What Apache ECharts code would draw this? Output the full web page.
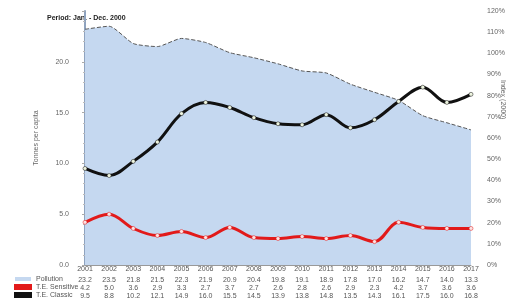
<!DOCTYPE html>
<html>
<head>
<meta charset="utf-8">
<script src="https://cdn.jsdelivr.net/npm/echarts@6/dist/echarts.min.js"></script>
<style>
  html, body { margin: 0; padding: 0; background: #fff; }
  #main { width: 527px; height: 302px; }
</style>
</head>
<body>
<div id="main"></div>
<script>
// years on the x axis / table header
var years = ['2001', '2002', '2003', '2004', '2005', '2006', '2007', '2008', '2009',
  '2010', '2011', '2012', '2013', '2014', '2015', '2016', '2017'];
// light blue area
var pollution = [23.2, 23.5, 21.8, 21.5, 22.3, 21.9, 20.9, 20.4, 19.8,
  19.1, 18.9, 17.8, 17.0, 16.2, 14.7, 14.0, 13.3];
// red line
var sensitive = [4.2, 5.0, 3.6, 2.9, 3.3, 2.7, 3.7, 2.7, 2.6,
  2.8, 2.6, 2.9, 2.3, 4.2, 3.7, 3.6, 3.6];
// black line
var classic = [9.5, 8.8, 10.2, 12.1, 14.9, 16.0, 15.5, 14.5, 13.9,
  13.8, 14.8, 13.5, 14.3, 16.1, 17.5, 16.0, 16.8];

var seriesNames = ['Pollution', 'T.E. Sensitive', 'T.E. Classic'];
var seriesColors = ['#c5d8f0', '#e21a1a', '#111'];

var chart = echarts.init(document.getElementById('main'));

var fmt = function (v) { return v.toFixed(1); };
var tableAxis = function (vals, off) {
  return {
    type: 'category',
    position: 'bottom',
    offset: off,
    boundaryGap: false,
    data: vals.map(fmt),
    axisLine: { show: false },
    axisTick: { show: false },
    axisLabel: { fontSize: 7, color: '#555', margin: 0, interval: 0 }
  };
};

var option = {
  animation: false,
  textStyle: { fontFamily: 'Liberation Sans, Arial, sans-serif' },
  grid: { left: 85, right: 56, top: 11, bottom: 37 },
  legend: {
    orient: 'vertical',
    left: 14,
    top: 275,
    height: 40,
    padding: 0,
    itemGap: 0,
    itemWidth: 16,
    itemHeight: 4,
    icon: 'rect',
    textStyle: { fontSize: 7, color: '#555', lineHeight: 8 },
    data: seriesNames.map(function (n, i) {
      return { name: n, itemStyle: { color: seriesColors[i] } };
    })
  },
  graphic: [
    {
      type: 'text', left: 47, top: 15,
      style: { text: 'Period: Jan. - Dec. 2000', font: 'bold 7px Liberation Sans', fill: '#222' }
    },
    {
      type: 'text', x: 506, y: 80, rotation: -Math.PI / 2,
      style: { text: 'Index (2000)', font: '7px Liberation Sans', fill: '#666' }
    }
  ],
  xAxis: [
    {
      type: 'category',
      boundaryGap: false,
      data: years,
      axisLine: { lineStyle: { color: '#999' } },
      axisTick: { show: false },
      axisLabel: { fontSize: 7, color: '#555', margin: 1, interval: 0 }
    },
    tableAxis(pollution, 12),
    tableAxis(sensitive, 20),
    tableAxis(classic, 28)
  ],
  yAxis: [
    {
      type: 'value',
      min: 0, max: 25, interval: 5,
      name: 'Tonnes per capita',
      nameLocation: 'middle',
      nameGap: 45,
      nameTextStyle: { fontSize: 7, color: '#666' },
      axisLine: { show: true, lineStyle: { color: '#8fa3bf', width: 2 } },
      axisTick: { show: true, length: 3, lineStyle: { color: '#aaa' } },
      minorTick: { show: true, splitNumber: 5, length: 2, lineStyle: { color: '#bbb' } },
      splitLine: { show: false },
      axisLabel: { fontSize: 7, color: '#666', margin: 16, formatter: fmt, showMaxLabel: false }
    },
    {
      type: 'value',
      min: 0, max: 120, interval: 10,
      axisLine: { show: false },
      axisTick: { show: false },
      splitLine: { show: false },
      axisLabel: { fontSize: 7, color: '#666', margin: 16, formatter: '{value}%' }
    }
  ],
  series: [
    {
      name: seriesNames[0],
      type: 'line',
      data: pollution,
      smooth: 0.2,
      showSymbol: false,
      itemStyle: { color: seriesColors[0] },
      lineStyle: { color: '#555', width: 1, type: 'dashed' },
      areaStyle: { color: seriesColors[0], opacity: 1 },
      z: 1
    },
    {
      name: seriesNames[1],
      type: 'line',
      data: sensitive,
      smooth: 0.35,
      symbol: 'circle',
      symbolSize: 4,
      itemStyle: { color: '#fbe3e3', borderColor: seriesColors[1], borderWidth: 0.5 },
      lineStyle: { color: seriesColors[1], width: 3 },
      z: 3
    },
    {
      name: seriesNames[2],
      type: 'line',
      data: classic,
      smooth: 0.35,
      symbol: 'circle',
      symbolSize: 4,
      itemStyle: { color: '#eef5e0', borderColor: seriesColors[2], borderWidth: 0.5 },
      lineStyle: { color: seriesColors[2], width: 3 },
      z: 3
    }
  ]
};

chart.setOption(option);
</script>
</body>
</html>
